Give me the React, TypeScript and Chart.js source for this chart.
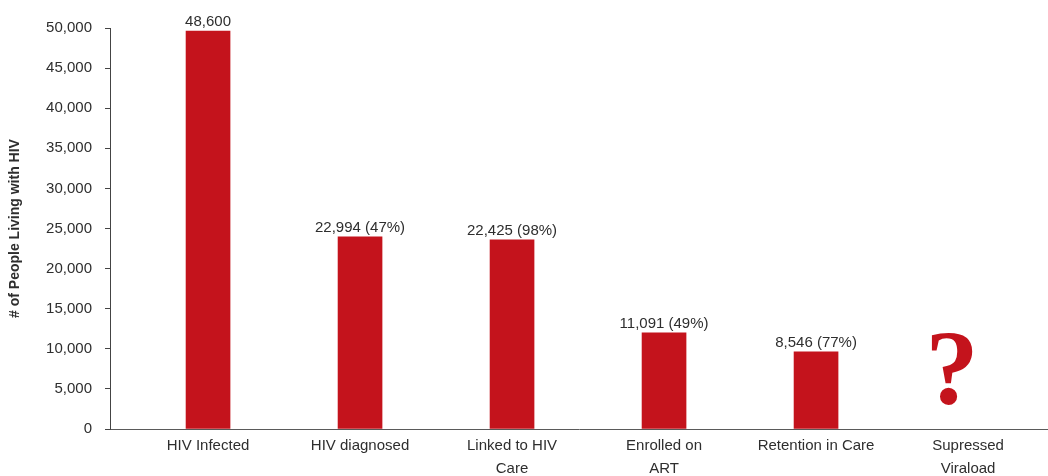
import React, { useEffect, useRef } from "react";
import { Chart, registerables } from "chart.js";

Chart.register(...registerables);

const categories: (string | string[])[] = [
  "HIV Infected",
  "HIV diagnosed",
  ["Linked to HIV", "Care"],
  ["Enrolled on", "ART"],
  "Retention in Care",
  ["Supressed", "Viraload"],
];
// bar heights as drawn in the picture
const barValues: number[] = [49630, 23960, 23580, 12000, 9630];
// labels printed above the bars
const barLabels: string[] = ["48,600", "22,994 (47%)", "22,425 (98%)", "11,091 (49%)", "8,546 (77%)"];
const unknownLabel = "?";
const unknownIndex = 5;
const yTicksMax = 50000;
const yStep = 5000;

const RED = "#C4131C";
const TEXT = "#2E2E2E";
const FONT = "'Liberation Sans', Arial, sans-serif";

export default function App() {
  const ref = useRef<HTMLCanvasElement | null>(null);
  useEffect(() => {
    if (!ref.current) return;
    const labelPlugin = {
      id: "barLabels",
      afterDatasetsDraw(chart: any) {
        const ctx = chart.ctx;
        const xs = chart.scales.x;
        const ys = chart.scales.y;
        ctx.save();
        ctx.font = `15px ${FONT}`;
        ctx.fillStyle = TEXT;
        ctx.textAlign = "center";
        ctx.textBaseline = "alphabetic";
        barValues.forEach((v, i) => {
          const x = xs.getPixelForValue(i);
          const y = ys.getPixelForValue(v);
          ctx.fillText(barLabels[i], x, y - 5);
        });
        ctx.font = `bold 106px 'Liberation Serif', 'DejaVu Serif', serif`;
        ctx.fillStyle = RED;
        ctx.fillText(unknownLabel, xs.getPixelForValue(unknownIndex) - 16, ys.getPixelForValue(0) - 25);
        ctx.restore();
      },
    };
    const chart = new Chart(ref.current, {
      type: "bar",
      data: {
        datasets: [
          {
            data: barValues.map((v, i) => ({ x: i, y: v })),
            backgroundColor: RED,
            borderWidth: 0,
            barThickness: 44,
          },
        ],
      },
      options: {
        responsive: false,
        animation: false,
        layout: { padding: { top: 28, right: 0, left: 0, bottom: 0 } },
        plugins: { legend: { display: false }, tooltip: { enabled: false } },
        scales: {
          x: {
            type: "linear",
            offset: false,
            min: -0.645,
            max: 5.526,
            grid: { display: false, drawTicks: false, offset: false },
            border: { display: true, color: "#5A5A5A", width: 1 },
            ticks: {
              stepSize: 1,
              includeBounds: false,
              autoSkip: false,
              maxRotation: 0,
              padding: 6,
              color: TEXT,
              font: { family: FONT, size: 15, lineHeight: 1.5 },
              callback: (v: any) => categories[v as number] as any,
            },
            afterFit: (s: any) => {
              s.height = 47;
            },
          },
          y: {
            min: 0,
            max: yTicksMax,
            grid: { drawOnChartArea: false, drawTicks: true, tickLength: 5, color: "#444444" },
            border: { display: true, color: "#444444", width: 1 },
            ticks: {
              stepSize: yStep,
              padding: 13,
              color: TEXT,
              font: { family: FONT, size: 15 },
              callback: (v: any) => Number(v).toLocaleString("en-US"),
            },
            title: {
              display: true,
              text: "# of People Living with HIV",
              color: TEXT,
              font: { family: FONT, size: 14, weight: "bold" },
              padding: { top: 7, bottom: 0 },
            },
            afterFit: (s: any) => {
              s.width = 110;
            },
          },
        },
      },
      plugins: [labelPlugin],
    } as any);
    return () => chart.destroy();
  }, []);
  return (
    <div style={{ position: "absolute", left: 0, top: 0, width: 1048, height: 476, background: "#fff" }}>
      <canvas ref={ref} width={1048} height={476} style={{ display: "block" }} />
    </div>
  );
}
